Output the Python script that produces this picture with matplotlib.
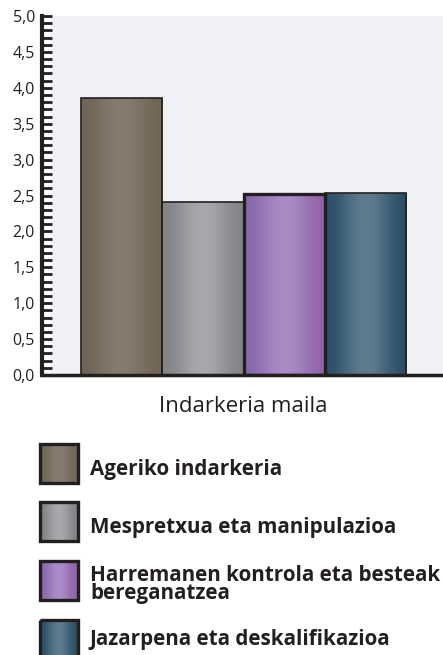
import numpy as np
import matplotlib
matplotlib.use("Agg")
import matplotlib.pyplot as plt
from matplotlib.patches import Rectangle
from matplotlib.ticker import MultipleLocator, FuncFormatter
from matplotlib.colors import to_rgb

plt.rcParams["font.family"] = ["Open Sans", "DejaVu Sans"]

# ---- data ----
categories = ["Ageriko indarkeria",
              "Mespretxua eta manipulazioa",
              "Harremanen kontrola eta besteak\nbereganatzea",
              "Jazarpena eta deskalifikazioa"]
values = [3.86, 2.41, 2.52, 2.54]
xlabel = "Indarkeria maila"
yticks = [0.0, 0.5, 1.0, 1.5, 2.0, 2.5, 3.0, 3.5, 4.0, 4.5, 5.0]

# gradient colours: (edge-left, middle, edge-right)
grad_colors = [("#6e6556", "#857b6f", "#716555"),
               ("#838488", "#a8a9ac", "#838488"),
               ("#8768ad", "#a98cc5", "#9163a9"),
               ("#2b5067", "#5f7b8f", "#2a4f65")]
edge_widths = [1.2, 1.2, 2.4, 1.2]

W, H = 443, 655
fig = plt.figure(figsize=(W / 100, H / 100), dpi=100)
fig.patch.set_facecolor("white")

ax = fig.add_axes([42 / W, (H - 375) / H, 403 / W, (375 - 16) / H])
ax.set_facecolor("#f0f1f4")


def gradient_image(cols, n=200):
    t = np.linspace(0, 1, n)
    c0, c1, c2 = (np.array(to_rgb(c)) for c in cols)
    img = np.zeros((1, n, 3))
    for i, tt in enumerate(t):
        if tt <= 0.5:
            s = 0.5 - 0.5 * np.cos(np.pi * tt / 0.5)
            img[0, i] = c0 + (c1 - c0) * s
        else:
            s = 0.5 - 0.5 * np.cos(np.pi * (tt - 0.5) / 0.5)
            img[0, i] = c1 + (c2 - c1) * s
    return img


x = np.arange(len(values))
bars = ax.bar(x, values, width=1.0, color="none", edgecolor="#231f20", zorder=3)
for b, cols, lw in zip(bars, grad_colors, edge_widths):
    b.set_linewidth(lw)
    bx, by, bw, bh = b.get_x(), b.get_y(), b.get_width(), b.get_height()
    im = ax.imshow(gradient_image(cols), extent=(bx, bx + bw, by, by + bh),
                   aspect="auto", zorder=2, interpolation="bilinear")
    im.set_clip_path(b)

ax.set_xlim(-0.98, 3.98)
ax.set_ylim(0, 5.0)

# white strip under the tick comb
ax.add_patch(Rectangle((0, 0), 9 / 403, 1, transform=ax.transAxes,
                       facecolor="white", edgecolor="none", zorder=1))

for s in ["top", "right"]:
    ax.spines[s].set_visible(False)
ax.spines["left"].set_linewidth(3)
ax.spines["bottom"].set_linewidth(2.5)
ax.spines["left"].set_color("#231f20")
ax.spines["bottom"].set_color("#231f20")

ax.set_yticks(yticks)
ax.yaxis.set_minor_locator(MultipleLocator(0.1))
ax.yaxis.set_major_formatter(FuncFormatter(lambda v, p: f"{v:.1f}".replace(".", ",")))
ax.tick_params(axis="y", which="both", direction="in", length=7.5, width=2.0,
               color="#231f20", labelsize=11.5, pad=5, labelcolor="#231f20")
ax.set_xticks([])
ax.set_xlabel(xlabel, fontsize=16, color="#231f20", labelpad=15)

# ---- legend (manual, pixel layout) ----
leg = fig.add_axes([0, 0, 1, 1], zorder=5)
leg.set_xlim(0, W)
leg.set_ylim(H, 0)
leg.axis("off")
leg.patch.set_alpha(0)
row_tops = [444, 502, 561, 620]
text_baselines = [475, 533, 599, 645]
for cat, cols, top, base in zip(categories, grad_colors, row_tops, text_baselines):
    sw, sh = 38, 39
    leg.imshow(gradient_image(cols), extent=(40, 40 + sw, top + sh, top),
               aspect="auto", interpolation="bilinear", zorder=1)
    leg.add_patch(Rectangle((40, top), sw, sh, facecolor="none",
                            edgecolor="#231f20", linewidth=2.4, zorder=2))
    leg.text(90, base, cat, fontsize=14.9, fontweight="bold",
             va="baseline", ha="left", color="#231f20", linespacing=0.82)
leg.set_xlim(0, W)
leg.set_ylim(H, 0)

fig.savefig("out.png", dpi=100)
